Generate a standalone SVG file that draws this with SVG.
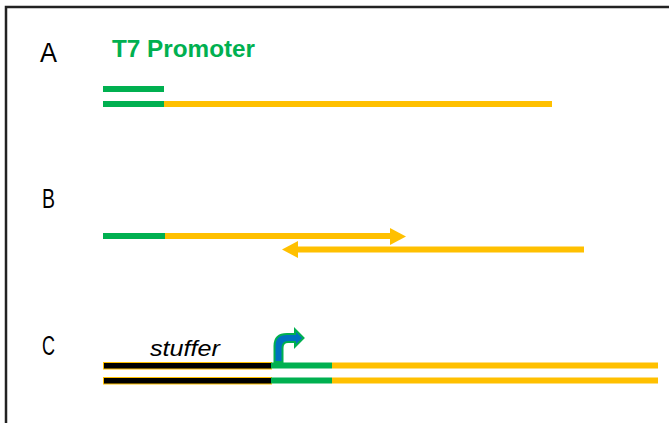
<svg xmlns="http://www.w3.org/2000/svg" width="669" height="423" viewBox="0 0 669 423">
<style>
.lbl{font-family:"Liberation Sans",Arial,sans-serif;font-size:27px;fill:#000}
.g{stroke:#00B050;stroke-width:6;fill:none}
.y{stroke:#FFC000;stroke-width:6;fill:none}
.blk{fill:#000;stroke:#FFC000;stroke-width:1}
</style>
<rect width="669" height="423" fill="#fff"/>
<path d="M6,423 V7 H669" fill="none" stroke="#222" stroke-width="2.5"/>
<g id="labelA"><text class="lbl" x="40" y="62" textLength="17" lengthAdjust="spacingAndGlyphs">A</text></g>
<g id="labelB"><text class="lbl" x="42" y="208" textLength="13" lengthAdjust="spacingAndGlyphs">B</text></g>
<g id="labelC"><text class="lbl" x="42" y="355" textLength="13" lengthAdjust="spacingAndGlyphs">C</text></g>
<g id="t7label"><text x="112" y="56.5" font-family="'Liberation Sans',Arial,sans-serif" font-weight="bold" font-size="23" fill="#00B050" textLength="143" lengthAdjust="spacingAndGlyphs">T7 Promoter</text></g>
<g id="stufferlabel"><text x="150" y="356" font-family="'Liberation Sans',Arial,sans-serif" font-style="italic" font-size="22" fill="#000" textLength="70" lengthAdjust="spacingAndGlyphs">stuffer</text></g>
<g id="connectors">
  <g id="A">
    <line class="g" x1="103" y1="89" x2="164" y2="89"/>
    <line class="g" x1="103" y1="104" x2="164" y2="104"/>
    <line class="y" x1="164" y1="104" x2="552" y2="104"/>
  </g>
  <g id="B">
    <line class="g" x1="103" y1="236" x2="165" y2="236"/>
    <line class="y" x1="165" y1="236" x2="391" y2="236"/>
    <polygon points="390,228 406,236.5 390,245" fill="#FFC000"/>
    <line class="y" x1="297" y1="249.5" x2="584" y2="249.5"/>
    <polygon points="298,241 282,249.5 298,258" fill="#FFC000"/>
  </g>
  <g id="C">
    <rect class="blk" x="103.5" y="362.5" width="168" height="6.5"/>
    <rect class="blk" x="103.5" y="377.5" width="168" height="6.5"/>
    <line class="g" x1="271" y1="365.5" x2="332" y2="365.5"/>
    <line class="g" x1="271" y1="380.5" x2="332" y2="380.5"/>
    <line class="y" x1="332" y1="365.5" x2="658" y2="365.5"/>
    <line class="y" x1="332" y1="380.5" x2="658" y2="380.5"/>
    <path d="M274.5,362 L274.5,346 Q274.5,334 287,334 L295,334 L295,329.5 L303.5,338 L295,346.5 L295,342 L288,342 Q282.5,342 282.5,348 L282.5,362 Z" fill="#0070C0" stroke="#00B050" stroke-width="2" stroke-linejoin="miter"/>
  </g>
</g>
</svg>
